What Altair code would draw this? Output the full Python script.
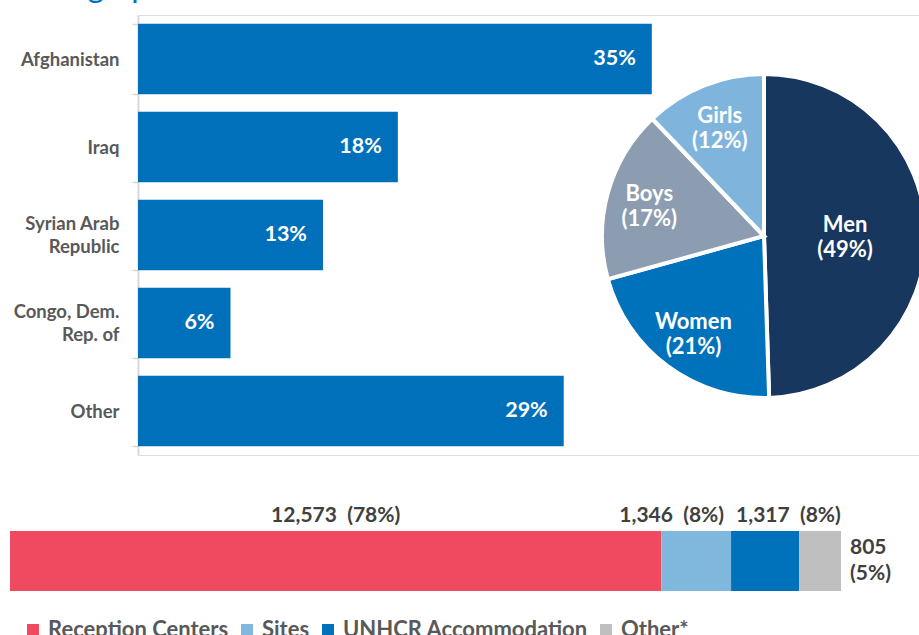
import altair as alt
import pandas as pd

# ---------------- data ----------------
title_text = "Demographics"

countries = ["Afghanistan", "Iraq", "Syrian Arab Republic", "Congo, Dem. Rep. of", "Other"]
country_share = [35.0, 17.7, 12.6, 6.3, 29.0]

groups = ["Men", "Women", "Boys", "Girls"]
group_share = [49, 21, 17, 12]
group_colors = ["#18375F", "#0072BC", "#8D9DB1", "#7FB5DC"]

shelter_types = ["Reception Centers", "Sites", "UNHCR Accommodation", "Other*"]
shelter_counts = [12573, 1346, 1317, 805]
shelter_pcts = [78, 8, 8, 5]
shelter_colors = ["#EF4A60", "#7FB7DD", "#0072BC", "#BFBFBF"]

FONT = "Lato"
NB = "\u00a0"

# ---------------- country bars ----------------
cdf = pd.DataFrame({"country": countries, "share": country_share})

multi = "datum.label == 'Syrian Arab Republic' || datum.label == 'Congo, Dem. Rep. of'"
label_expr = ("datum.label == 'Syrian Arab Republic' ? ['Syrian Arab', 'Republic'] : "
              "datum.label == 'Congo, Dem. Rep. of' ? ['Congo, Dem.', 'Rep. of'] : datum.label")

yc = alt.Y("country:N", sort=countries, title=None,
           scale=alt.Scale(paddingInner=0.2, paddingOuter=0.1),
           axis=alt.Axis(orient="left", domainColor="#d9d9d9", domainWidth=2,
                         tickColor="#d9d9d9", tickSize=6, tickWidth=1.5, tickBand="extent",
                         labelFont=FONT, labelFontSize=18.5, labelFontWeight="bold",
                         labelColor="#595959", labelPadding=13, labelLineHeight=23,
                         labelOffset={"condition": {"test": multi, "value": -11.5}, "value": 0},
                         labelExpr=label_expr, grid=False))
xc = alt.X("share:Q", scale=alt.Scale(domain=[0, 53.2], nice=False), axis=None)

cbase = alt.Chart(cdf)
cbars = cbase.mark_bar(color="#0070BA").encode(x=xc, y=yc)
ctext = cbase.transform_calculate(
    lbl="format(datum.share, '.0f') + '%'"
).mark_text(align="right", dx=-16, color="white", font=FONT, fontSize=21.5,
            fontWeight="bold").encode(x=xc, y=yc, text="lbl:N")
country_layer = alt.layer(cbars, ctext)

# ---------------- pie ----------------
gdf = pd.DataFrame({"group": groups, "share": group_share, "ord": list(range(len(groups)))})
pbase = alt.Chart(gdf)
arc = pbase.mark_arc(radius=162, stroke="white", strokeWidth=4, clip=True).encode(
    theta=alt.Theta("share:Q", stack=True),
    order=alt.Order("ord:Q"),
    color=alt.Color("group:N", scale=alt.Scale(domain=groups, range=group_colors), legend=None),
    x=alt.value(626), y=alt.value(221),
)
ptext = pbase.transform_window(
    cum="sum(share)", sort=[alt.SortField("ord")], frame=[None, 0]
).transform_calculate(
    mid="datum.cum - datum.share / 2",
    lbl="datum.group + '\\n(' + datum.share + '%)'",
    r="datum.group == 'Men' ? 81 : 119",
).mark_text(font=FONT, fontSize=22, fontWeight="bold", color="white",
            lineBreak="\n", lineHeight=25, dy=-10).encode(
    theta=alt.Theta("mid:Q", stack=None),
    radius=alt.Radius("r:Q", scale=None),
    text="lbl:N",
    x=alt.value(626), y=alt.value(221),
)
pie_layer = alt.layer(arc, ptext)

# ---------------- shelter stacked bar ----------------
sdf = pd.DataFrame({"type": shelter_types, "count": shelter_counts,
                    "pct": shelter_pcts, "ord": list(range(len(shelter_types)))})
sbase = alt.Chart(sdf).transform_window(
    end="sum(count)", sort=[alt.SortField("ord")], frame=[None, 0]
).transform_calculate(
    start="datum.end - datum.count",
    mid="(datum.end + datum.end - datum.count) / 2",
    row="'all'",
    lbl="format(datum.count, ',') + '" + NB + NB + "(' + datum.pct + '%)'",
    lbl2="format(datum.count, ',') + '\\n(' + datum.pct + '%)'",
)
xs_scale = alt.Scale(range=[-128, 703], nice=False, zero=True)
ys = alt.Y("row:N", title=None, axis=None,
           scale=alt.Scale(range=[516, 576], paddingInner=0, paddingOuter=0))

sbars = sbase.mark_bar().encode(
    x=alt.X("start:Q", scale=xs_scale, axis=None), x2="end:Q", y=ys,
    color=alt.Color("type:N", scale=alt.Scale(domain=shelter_types, range=shelter_colors),
                    legend=alt.Legend(title=None, orient="none", legendX=-116, legendY=604,
                                      direction="horizontal", symbolType="square",
                                      symbolSize=144, symbolStrokeWidth=0,
                                      labelFont=FONT, labelFontSize=22, labelFontWeight="bold",
                                      labelColor="#595959", labelOffset=4, labelLimit=0,
                                      columnPadding=7, padding=0)),
)
tstyle = dict(font=FONT, fontSize=21, fontWeight="bold", color="#404040")
t_red = sbase.transform_filter(alt.datum.ord == 0).mark_text(
    align="center", dy=-45, **tstyle).encode(
    x=alt.X("mid:Q", scale=xs_scale, axis=None), y=ys, text="lbl:N")
t_sites = sbase.transform_filter(alt.datum.ord == 1).mark_text(
    align="right", dx=-7, dy=-45, **tstyle).encode(
    x=alt.X("end:Q", scale=xs_scale, axis=None), y=ys, text="lbl:N")
t_unhcr = sbase.transform_filter(alt.datum.ord == 2).mark_text(
    align="left", dx=5, dy=-45, **tstyle).encode(
    x=alt.X("start:Q", scale=xs_scale, axis=None), y=ys, text="lbl:N")
t_other = sbase.transform_filter(alt.datum.ord == 3).mark_text(
    align="left", dx=9, dy=-13, lineBreak="\n", lineHeight=26, **tstyle).encode(
    x=alt.X("end:Q", scale=xs_scale, axis=None), y=ys, text="lbl2:N")
shelter_layer = alt.layer(sbars, t_red, t_sites, t_unhcr, t_other)

# ---------------- title fragment (cut off at the top) ----------------
title_layer = alt.Chart(pd.DataFrame({"t": [title_text]})).mark_text(
    align="left", baseline="alphabetic", font=FONT, fontSize=32, color="#0072BC"
).encode(text="t:N", x=alt.value(-136), y=alt.value(-18))

chart = alt.layer(country_layer, pie_layer, shelter_layer, title_layer).resolve_scale(
    x="independent", y="independent", color="independent", theta="independent"
).properties(
    width=781, height=440,
    autosize=alt.AutoSizeParams(type="none"),
    padding={"left": 138, "top": 15, "right": 0, "bottom": 180},
).configure_view(stroke=None).configure(background="white")

chart.save("out.html", embed_options={"renderer": "svg", "actions": False})
